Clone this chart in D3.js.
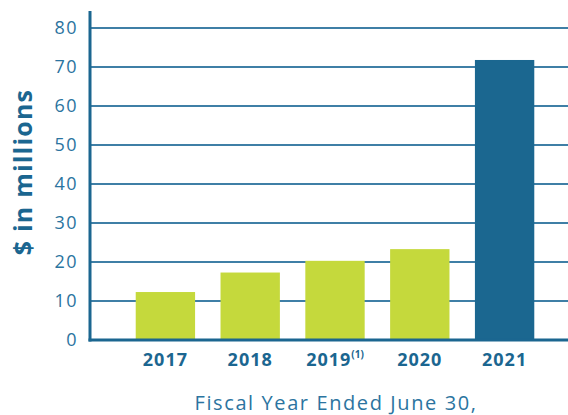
<!DOCTYPE html>
<html><head><meta charset="utf-8">
<script src="https://cdn.jsdelivr.net/npm/d3@7"></script>
<style>body{margin:0;background:#fff}svg{display:block}</style>
</head><body>
<svg id="c" width="568" height="415"></svg>
<script>
const categories = ["2017","2018","2019","2020","2021"];
const values = [12.3, 17.3, 20.3, 23.3, 71.8];
const yTicks = [0,10,20,30,40,50,60,70,80];
const yTitle = "$ in millions";
const xTitle = "Fiscal Year Ended June 30,";

const svg = d3.select("#c");
const font = "'Open Sans', sans-serif";
const x = d3.scaleBand().domain(categories).range([123, 547]).paddingInner(0.3).paddingOuter(0.15);
const y = d3.scaleLinear().domain([0, 80]).range([340, 28]);

// gridlines
svg.append("g").selectAll("line").data(yTicks.filter(d => d > 0)).join("line")
  .attr("x1", 90).attr("x2", 568)
  .attr("y1", d => y(d)).attr("y2", d => y(d))
  .attr("stroke", "#3f7fa6").attr("stroke-width", 2);

// bars
svg.append("g").selectAll("rect").data(categories).join("rect")
  .attr("x", d => x(d)).attr("width", x.bandwidth())
  .attr("y", (d,i) => y(values[i])).attr("height", (d,i) => y(0) - y(values[i]))
  .attr("fill", (d,i) => i === categories.length - 1 ? "#1b6790" : "#c5d93c");

// axes lines
svg.append("line").attr("x1", 90).attr("x2", 90).attr("y1", 11).attr("y2", 341.5)
  .attr("stroke", "#1b6690").attr("stroke-width", 3);
svg.append("line").attr("x1", 88.5).attr("x2", 568).attr("y1", 340).attr("y2", 340)
  .attr("stroke", "#1b6690").attr("stroke-width", 3);

// y tick labels
svg.append("g").selectAll("text").data(yTicks).join("text")
  .attr("x", 78).attr("y", d => y(d)).attr("dy", "0.36em")
  .attr("text-anchor", "end").attr("font-family", font).attr("font-size", 18)
  .attr("letter-spacing", 1.5)
  .attr("fill", "#2b74a0").text(d => d);

// x labels
const xl = svg.append("g").selectAll("text").data(categories).join("text")
  .attr("x", d => x(d) + x.bandwidth()/2).attr("y", 366)
  .attr("text-anchor", "middle").attr("font-family", font).attr("font-size", 18)
  .attr("letter-spacing", 1)
  .attr("font-weight", "bold").attr("fill", "#1b6690");
xl.each(function(d){
  const t = d3.select(this);
  t.append("tspan").text(d);
  if (d === "2019") t.append("tspan").attr("font-size", 10).attr("letter-spacing", 0).attr("dy", -8).text("(1)");
});

// x title
svg.append("text").attr("x", 336).attr("y", 410).attr("text-anchor", "middle")
  .attr("font-family", font).attr("font-size", 20).attr("letter-spacing", 1.6)
  .attr("fill", "#2b74a0").text(xTitle);

// y title
svg.append("text").attr("transform", "translate(32,172) rotate(-90)").attr("text-anchor", "middle")
  .attr("font-family", font).attr("font-size", 25).attr("font-weight", "bold")
  .attr("letter-spacing", 1.2)
  .attr("fill", "#1b6690").text(yTitle);
</script>
</body></html>
